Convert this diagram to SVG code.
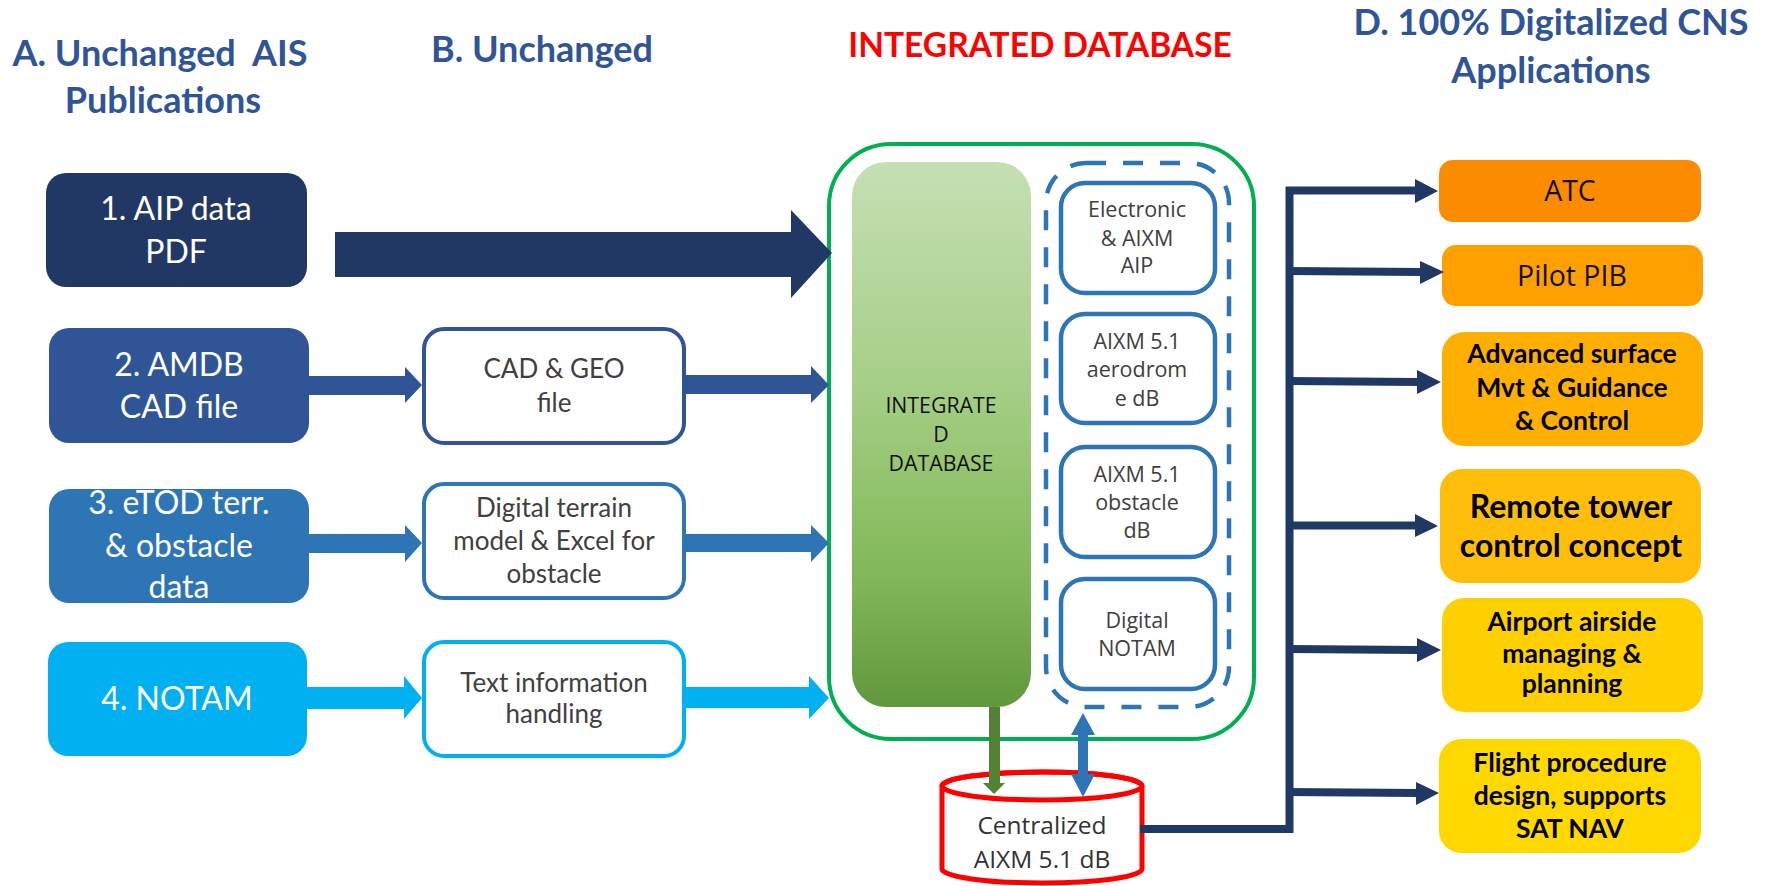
<svg xmlns="http://www.w3.org/2000/svg" width="1767" height="886" viewBox="0 0 1767 886">
  <defs>
    <linearGradient id="dbGrad" x1="0" y1="0" x2="0" y2="1">
      <stop offset="0" stop-color="#C5E0B4"/>
      <stop offset="0.4" stop-color="#A6CF88"/>
      <stop offset="0.75" stop-color="#83B959"/>
      <stop offset="1" stop-color="#62983D"/>
    </linearGradient>
    <style>
      .title { font-family: Lato, "Liberation Sans", sans-serif; font-weight: bold; font-size: 36px; fill: #2F5597; text-anchor: middle; }
      .red { fill: #FF0000; font-size: 33.5px; }
      .src { font-family: Lato, "Liberation Sans", sans-serif; font-size: 32px; fill: #FFFFFF; text-anchor: middle; }
      .mid { font-family: Lato, "Liberation Sans", sans-serif; font-size: 26px; fill: #404040; text-anchor: middle; }
      .db { font-family: "Open Sans", "Liberation Sans", sans-serif; font-size: 21.5px; fill: #404040; text-anchor: middle; }
      .dbMain { font-family: "Open Sans", "Liberation Sans", sans-serif; font-size: 21.3px; fill: #111111; text-anchor: middle; }
      .cyl { font-family: "Open Sans", "Liberation Sans", sans-serif; font-size: 24.5px; fill: #333333; text-anchor: middle; }
      .app { font-family: "Open Sans", "Liberation Sans", sans-serif; font-size: 28.5px; fill: #111111; text-anchor: middle; }
      .appB { font-family: Lato, "Liberation Sans", sans-serif; font-weight: bold; font-size: 26.5px; fill: #000000; text-anchor: middle; }
      .appL { font-size: 32px; }
      .midBox { fill: #FFFFFF; stroke-width: 4; }
      .dbBox { fill: #FFFFFF; stroke: #2E75B6; stroke-width: 4.5; }
      .tree { stroke: #203864; stroke-width: 8; fill: none; }
      .treeHead { fill: #203864; }
    </style>
  </defs>

  <!-- column headings -->
  <g id="headings">
    <text class="title" x="160" y="66" xml:space="preserve">A. Unchanged  AIS</text>
    <text class="title" x="163" y="113">Publications</text>
    <text class="title" x="542" y="62">B. Unchanged</text>
    <text class="title red" x="1040" y="57">INTEGRATED DATABASE</text>
    <text class="title" x="1551" y="35">D. 100% Digitalized CNS</text>
    <text class="title" x="1551" y="83">Applications</text>
  </g>

  <!-- sources -->
  <g id="src-aip">
    <rect x="46" y="173" width="261" height="114" rx="20" fill="#213864"/>
    <text class="src" x="176" y="220">1. AIP data</text>
    <text class="src" x="176" y="263">PDF</text>
  </g>
  <g id="src-amdb">
    <rect x="49" y="328" width="260" height="115" rx="20" fill="#2F5597"/>
    <text class="src" x="179" y="376">2. AMDB</text>
    <text class="src" x="179" y="418">CAD file</text>
  </g>
  <g id="src-etod">
    <rect x="49" y="489" width="260" height="114" rx="20" fill="#2E75B6"/>
    <text class="src" x="179" y="514">3. eTOD terr.</text>
    <text class="src" x="179" y="557">&amp; obstacle</text>
    <text class="src" x="179" y="598">data</text>
  </g>
  <g id="src-notam">
    <rect x="48" y="642" width="259" height="114" rx="20" fill="#00B0F0"/>
    <text class="src" x="177" y="710">4. NOTAM</text>
  </g>

  <!-- intermediate formats -->
  <g id="mid-cad">
    <rect class="midBox" x="424" y="329" width="260" height="114" rx="20" stroke="#2F5597"/>
    <text class="mid" x="554" y="378">CAD &amp; GEO</text>
    <text class="mid" x="554" y="412">file</text>
  </g>
  <g id="mid-terrain">
    <rect class="midBox" x="424" y="484" width="260" height="114" rx="20" stroke="#2E75B6"/>
    <text class="mid" x="554" y="517">Digital terrain</text>
    <text class="mid" x="554" y="550">model &amp; Excel for</text>
    <text class="mid" x="554" y="583">obstacle</text>
  </g>
  <g id="mid-text">
    <rect class="midBox" x="424" y="642" width="260" height="114" rx="20" stroke="#00B0F0"/>
    <text class="mid" x="554" y="692">Text information</text>
    <text class="mid" x="554" y="723">handling</text>
  </g>

  <!-- integrated database -->
  <g id="integrated-db">
    <rect x="829" y="144" width="425" height="595" rx="62" fill="#FFFFFF" stroke="#00B050" stroke-width="4"/>
    <rect x="852" y="162" width="179" height="545" rx="34" fill="url(#dbGrad)"/>
    <text class="dbMain" x="941" y="413">INTEGRATE</text>
    <text class="dbMain" x="941" y="442">D</text>
    <text class="dbMain" x="941" y="471">DATABASE</text>
    <rect x="1046" y="163" width="183" height="544" rx="40" fill="none" stroke="#2E75B6" stroke-width="4.5" stroke-dasharray="20 17"/>
  </g>
  <g id="db-aip">
    <rect class="dbBox" x="1061" y="183" width="154" height="110" rx="24"/>
    <text class="db" x="1137" y="217">Electronic</text>
    <text class="db" x="1137" y="246">&amp; AIXM</text>
    <text class="db" x="1137" y="273">AIP</text>
  </g>
  <g id="db-aerodrome">
    <rect class="dbBox" x="1061" y="314" width="154" height="109" rx="24"/>
    <text class="db" x="1137" y="349">AIXM 5.1</text>
    <text class="db" x="1137" y="377">aerodrom</text>
    <text class="db" x="1137" y="406">e dB</text>
  </g>
  <g id="db-obstacle">
    <rect class="dbBox" x="1061" y="447" width="154" height="110" rx="24"/>
    <text class="db" x="1137" y="482">AIXM 5.1</text>
    <text class="db" x="1137" y="510">obstacle</text>
    <text class="db" x="1137" y="538">dB</text>
  </g>
  <g id="db-notam">
    <rect class="dbBox" x="1061" y="579" width="154" height="110" rx="24"/>
    <text class="db" x="1137" y="628">Digital</text>
    <text class="db" x="1137" y="656">NOTAM</text>
  </g>

  <!-- centralized store -->
  <g id="central-db">
    <path d="M942,786 V869 A100,14 0 0 0 1142,869 V786 A100,14 0 0 0 942,786 Z" fill="#FFFFFF" stroke="#FF0000" stroke-width="5"/>
    <ellipse cx="1042" cy="786" rx="100" ry="14" fill="none" stroke="#FF0000" stroke-width="5"/>
    <text class="cyl" x="1042" y="834">Centralized</text>
    <text class="cyl" x="1042" y="868">AIXM 5.1 dB</text>
  </g>

  <!-- applications -->
  <g id="app-atc">
    <rect x="1439" y="160" width="262" height="62" rx="14" fill="#FD8B00"/>
    <text class="app" x="1570" y="201">ATC</text>
  </g>
  <g id="app-pib">
    <rect x="1442" y="245" width="261" height="61" rx="14" fill="#FFA000"/>
    <text class="app" x="1572" y="286">Pilot PIB</text>
  </g>
  <g id="app-surface">
    <rect x="1442" y="332" width="261" height="114" rx="22" fill="#FFAF00"/>
    <text class="appB" x="1572" y="363">Advanced surface</text>
    <text class="appB" x="1572" y="397">Mvt &amp; Guidance</text>
    <text class="appB" x="1572" y="430">&amp; Control</text>
  </g>
  <g id="app-tower">
    <rect x="1440" y="469" width="261" height="114" rx="22" fill="#FFBE0A"/>
    <text class="appB appL" x="1571" y="518">Remote tower</text>
    <text class="appB appL" x="1571" y="557">control concept</text>
  </g>
  <g id="app-airside">
    <rect x="1442" y="598" width="261" height="114" rx="22" fill="#FFD000"/>
    <text class="appB" x="1572" y="631">Airport airside</text>
    <text class="appB" x="1572" y="663">managing &amp;</text>
    <text class="appB" x="1572" y="693">planning</text>
  </g>
  <g id="app-procedure">
    <rect x="1439" y="739" width="262" height="114" rx="22" fill="#FFD800"/>
    <text class="appB" x="1570" y="772">Flight procedure</text>
    <text class="appB" x="1570" y="805">design, supports</text>
    <text class="appB" x="1570" y="838">SAT NAV</text>
  </g>

  <!-- connectors -->
  <g id="connectors">
    <polygon points="335,232 791,232 791,210 832,253 791,298 791,277 335,277" fill="#213864"/>
    <polygon points="309,376 405,376 405,367 422,385 405,403 405,395 309,395" fill="#2F5597"/>
    <polygon points="686,375 811,375 811,366 829,385 811,403 811,394 686,394" fill="#2F5597"/>
    <polygon points="309,534 405,534 405,525 422,543 405,562 405,553 309,553" fill="#2E75B6"/>
    <polygon points="686,534 811,534 811,525 829,543 811,562 811,552 686,552" fill="#2E75B6"/>
    <polygon points="307,687 404,687 404,676 422,698 404,719 404,709 307,709" fill="#00B0F0"/>
    <polygon points="686,687 809,687 809,676 829,698 809,719 809,708 686,708" fill="#00B0F0"/>

    <!-- database to central store -->
    <polygon points="989,707 1000,707 1000,783 1005,783 994,794 983,783 989,783" fill="#548235"/>
    <!-- exchange between the AIXM sets and the central store -->
    <polygon points="1083,713 1095,735 1088,735 1088,774 1095,774 1083,797 1071,774 1078,774 1078,735 1071,735" fill="#2E75B6"/>

    <!-- distribution tree -->
    <path class="tree" d="M1140,829 H1289.5 V187"/>
    <line class="tree" x1="1286" y1="190.5" x2="1416" y2="190.5"/>
    <polygon class="treeHead" points="1415,179 1438,191 1415,203"/>
    <line class="tree" x1="1286" y1="271" x2="1421" y2="272"/>
    <polygon class="treeHead" points="1420,261 1444,272 1420,284"/>
    <line class="tree" x1="1286" y1="381" x2="1418" y2="382"/>
    <polygon class="treeHead" points="1417,370 1441,382 1417,394"/>
    <line class="tree" x1="1286" y1="525.5" x2="1416" y2="525.5"/>
    <polygon class="treeHead" points="1415,514 1438,526 1415,537"/>
    <line class="tree" x1="1286" y1="649" x2="1418" y2="650"/>
    <polygon class="treeHead" points="1417,638 1441,650 1417,662"/>
    <line class="tree" x1="1286" y1="792" x2="1417" y2="793"/>
    <polygon class="treeHead" points="1416,782 1439,793 1416,805"/>
  </g>
</svg>
